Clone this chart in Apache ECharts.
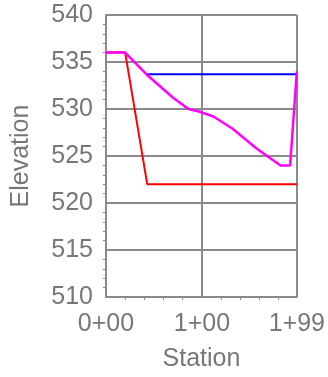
<!DOCTYPE html>
<html><head><meta charset="utf-8">
<script src="https://cdn.jsdelivr.net/npm/echarts@6/dist/echarts.min.js"></script>
<style>html,body{margin:0;padding:0;background:#fff}#c{width:328px;height:377px}</style>
</head><body><div id="c"></div>
<script>
// Data
var groundStation = [0, 20, 42, 70, 86, 98, 112, 132, 157, 182, 192, 199];
var groundElev    = [536, 536, 533.7, 531.2, 530.0, 529.7, 529.2, 527.9, 525.8, 524.0, 524.0, 534.0];
var waterStation  = [42, 199];
var waterElev     = [533.7, 533.7];
var bedStation    = [0, 20, 43, 199];
var bedElev       = [536, 536, 522, 522];
var xTicks = [0, 100, 199];
var yTicks = [510, 515, 520, 525, 530, 535, 540];

function pairs(xs, ys){ return xs.map(function(x,i){return [x, ys[i]];}); }
function fmtStation(v){ var h=Math.floor(v/100), r=Math.round(v-h*100); return h+'+'+(r<10?'0':'')+r; }

var gray = '#8a8a8a', txt = '#777777', font = 'Liberation Sans, Arial, sans-serif';
var chart = echarts.init(document.getElementById('c'), null, {renderer:'canvas'});
chart.setOption({
  animation:false,
  grid:{left:106, right:31, top:15, bottom:74, containLabel:false},
  xAxis:{type:'value', min:xTicks[0], max:xTicks[2], interval:100,
    name:'Station', nameLocation:'middle', nameGap:50,
    nameTextStyle:{color:txt, fontSize:25, fontFamily:font},
    axisLine:{show:true, lineStyle:{color:gray, width:2}},
    axisTick:{show:false},
    minorTick:{show:true, splitNumber:5, length:3, lineStyle:{color:gray, width:1}},
    axisLabel:{color:txt, fontSize:25, fontFamily:font, margin:15, formatter:fmtStation, showMaxLabel:true, showMinLabel:true},
    splitLine:{show:true, lineStyle:{color:gray, width:2}}},
  yAxis:{type:'value', min:yTicks[0], max:yTicks[yTicks.length-1], interval:5,
    name:'Elevation', nameLocation:'middle', nameGap:72, nameRotate:90,
    nameTextStyle:{color:txt, fontSize:25, fontFamily:font},
    axisLine:{show:true, lineStyle:{color:gray, width:2}},
    axisTick:{show:false},
    minorTick:{show:true, splitNumber:5, length:3, lineStyle:{color:gray, width:1}},
    axisLabel:{color:txt, fontSize:25, fontFamily:font, margin:13},
    splitLine:{show:true, lineStyle:{color:gray, width:2}}},
  series:[
    {type:'line', data:pairs(waterStation, waterElev), symbol:'none', lineStyle:{color:'#0000ff', width:2}},
    {type:'line', data:pairs(bedStation, bedElev), symbol:'none', lineStyle:{color:'#ff0000', width:2}},
    {type:'line', data:pairs(groundStation, groundElev), symbol:'none', lineStyle:{color:'#ff00ff', width:2.5}}
  ]
});
</script></body></html>
